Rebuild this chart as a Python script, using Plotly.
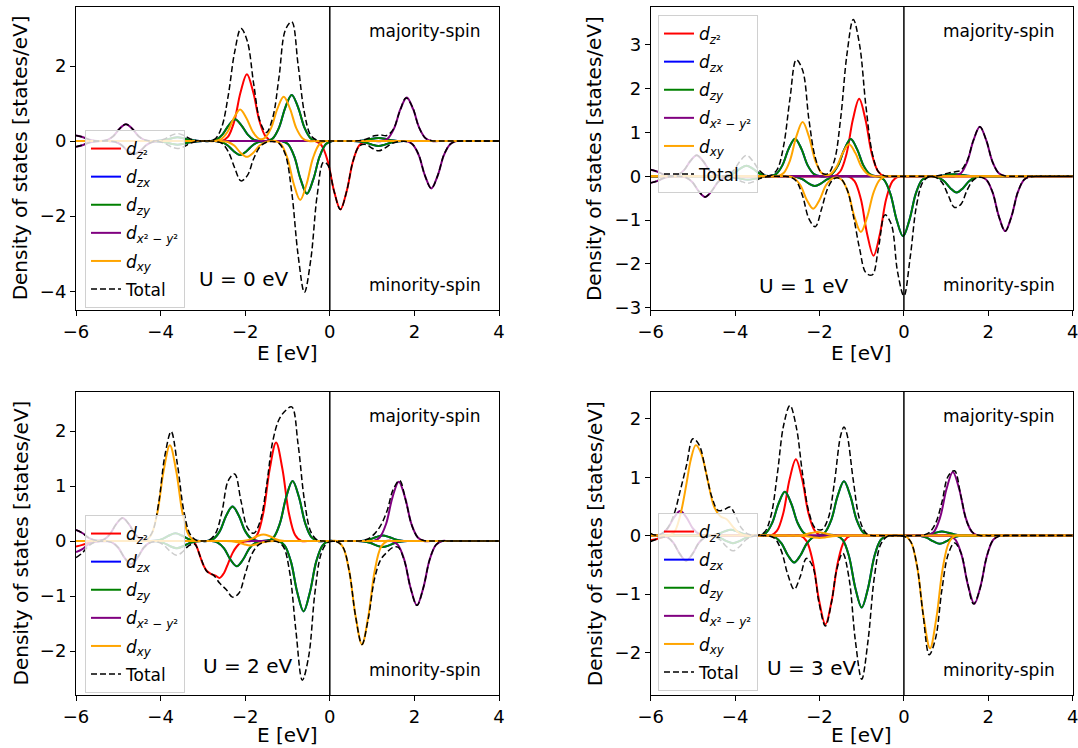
import plotly.graph_objects as go

# ---------------- data: (E [eV], DOS [states/eV]) ----------------
E_TICKS = [-6, -4, -2, 0, 2, 4]
U_VALUES = [0, 1, 2, 3]
Y_RANGES = [[-4.5, 3.58], [-3.05, 3.87], [-2.8, 2.71], [-2.73, 2.46]]
Y_DTICKS = [2, 1, 1, 1]

# ---- U = 0 eV ----
U0_DZ2_UP = [(-6,0),(-2.71,0),(-2.56,0),(-2.41,.11),(-2.26,.52),(-2.11,1.30),(-1.96,1.78),(-1.81,1.30),(-1.66,.52),(-1.51,.11),(-1.36,0),(-1.21,0),(4,0)]
U0_DZ2_DN = [(-6,0),(-0.5,0),(-0.35,0),(-0.2,-.11),(-0.05,-.53),(0.1,-1.33),(0.25,-1.82),(0.4,-1.33),(0.55,-.53),(0.7,-.11),(0.85,0),(1.0,0),(4,0)]
U0_DZY_UP = [(-6,0),(-4.35,0),(-4.2,0),(-4.05,.01),(-3.9,.03),(-3.75,.07),(-3.6,.10),(-3.45,.07),(-3.3,.03),(-3.15,.01),(-3.0,0),(-2.84,0),(-2.69,.03),(-2.54,.17),(-2.39,.42),(-2.24,.58),(-2.09,.42),(-1.94,.17),(-1.79,.03),(-1.64,0),(-1.5,0),(-1.35,.07),(-1.2,.36),(-1.05,.90),(-0.9,1.23),(-0.75,.90),(-0.6,.36),(-0.45,.07),(-0.3,0),(-0.15,0),(0.55,0),(0.7,.005),(0.85,.02),(1.0,.06),(1.15,.08),(1.3,.06),(1.45,.02),(1.6,.005),(1.75,0),(1.9,0),(4,0)]
U0_DZY_DN = [(-6,0),(-4.35,0),(-4.2,0),(-4.05,-.01),(-3.9,-.03),(-3.75,-.07),(-3.6,-.10),(-3.45,-.07),(-3.3,-.03),(-3.15,-.01),(-3.0,0),(-2.72,0),(-2.57,-.02),(-2.42,-.11),(-2.27,-.27),(-2.12,-.37),(-1.97,-.27),(-1.82,-.11),(-1.67,-.02),(-1.52,0),(-1.29,0),(-1.14,0),(-0.99,-.08),(-0.84,-.41),(-0.69,-1.02),(-0.54,-1.40),(-0.39,-1.02),(-0.24,-.41),(-0.09,-.08),(0.06,0),(0.21,0),(0.55,0),(0.7,-.01),(0.85,-.04),(1.0,-.095),(1.15,-.13),(1.3,-.095),(1.45,-.04),(1.6,-.01),(1.75,0),(1.9,0),(4,0)]
U0_DZX_UP = U0_DZY_UP
U0_DZX_DN = U0_DZY_DN
U0_DXY_UP = [(-6,0),(-2.87,0),(-2.72,0),(-2.57,.05),(-2.42,.24),(-2.27,.61),(-2.12,.84),(-1.97,.61),(-1.82,.25),(-1.67,.06),(-1.54,.08),(-1.39,.34),(-1.24,.86),(-1.09,1.18),(-0.94,.86),(-0.79,.34),(-0.64,.07),(-0.49,0),(-0.34,0),(4,0)]
U0_DXY_DN = [(-6,0),(-2.71,0),(-2.56,0),(-2.41,-.025),(-2.26,-.12),(-2.11,-.31),(-1.96,-.42),(-1.81,-.31),(-1.66,-.12),(-1.51,-.025),(-1.4,0),(-1.28,0),(-1.15,-.09),(-1.0,-.46),(-0.85,-1.15),(-0.7,-1.57),(-0.55,-1.15),(-0.4,-.46),(-0.25,-.09),(-0.1,0),(0.05,0),(4,0)]
U0_DX2Y2_UP = [(-6,.15),(-5.85,.11),(-5.7,.045),(-5.56,.01),(-5.42,0),(-5.27,.027),(-5.12,.13),(-4.97,.33),(-4.82,.45),(-4.67,.33),(-4.52,.13),(-4.37,.027),(-4.22,0),(-4.07,0),(1.07,0),(1.22,0),(1.37,.07),(1.52,.34),(1.67,.85),(1.82,1.16),(1.97,.85),(2.12,.34),(2.27,.07),(2.42,0),(2.57,0),(4,0)]
U0_DX2Y2_DN = [(-6,-.15),(-5.85,-.11),(-5.7,-.045),(-5.55,-.01),(-5.38,0),(-5.23,0),(-5.08,-.02),(-4.93,-.10),(-4.78,-.26),(-4.63,-.35),(-4.48,-.26),(-4.33,-.10),(-4.18,-.02),(-4.03,0),(-3.88,0),(1.65,0),(1.8,0),(1.95,-.08),(2.1,-.37),(2.25,-.92),(2.4,-1.26),(2.55,-.92),(2.7,-.37),(2.85,-.08),(3.0,0),(3.15,0),(4,0)]
U0_TOT_UP = [(-6,.15),(-5.85,.11),(-5.7,.045),(-5.56,.01),(-5.42,0),(-5.27,.027),(-5.12,.13),(-4.97,.33),(-4.82,.45),(-4.67,.33),(-4.52,.13),(-4.37,.027),(-4.2,0),(-4.05,.012),(-3.9,.06),(-3.75,.15),(-3.6,.20),(-3.45,.15),(-3.3,.06),(-3.15,.012),(-3.0,0),(-2.85,.01),(-2.7,.07),(-2.55,.39),(-2.4,1.22),(-2.25,2.37),(-2.1,3.0),(-1.95,2.66),(-1.8,1.53),(-1.65,.53),(-1.5,.23),(-1.35,.62),(-1.2,1.71),(-1.05,2.96),(-0.9,3.18),(-0.75,2.04),(-0.6,.75),(-0.45,.15),(-0.3,.02),(-0.15,0),(0.0,0),(0.45,0),(0.6,0),(0.75,.017),(0.9,.067),(1.05,.14),(1.2,.16),(1.35,.15),(1.5,.31),(1.65,.78),(1.8,1.15),(1.95,.92),(2.1,.39),(2.25,.09),(2.4,.01),(2.55,0),(2.7,0),(4,0)]
U0_TOT_DN = [(-6,-.15),(-5.85,-.11),(-5.7,-.045),(-5.55,-.01),(-5.38,0),(-5.23,0),(-5.08,-.02),(-4.93,-.10),(-4.78,-.26),(-4.63,-.35),(-4.48,-.26),(-4.33,-.10),(-4.18,-.02),(-4.05,-.012),(-3.9,-.06),(-3.75,-.15),(-3.6,-.20),(-3.45,-.15),(-3.3,-.06),(-3.15,-.012),(-3.0,0),(-2.85,0),(-2.7,-.01),(-2.55,-.06),(-2.4,-.28),(-2.25,-.71),(-2.1,-1.06),(-1.95,-.92),(-1.8,-.47),(-1.65,-.15),(-1.5,-.03),(-1.35,-.01),(-1.2,-.06),(-1.05,-.36),(-0.9,-1.36),(-0.75,-3.03),(-0.6,-4.03),(-0.45,-3.16),(-0.3,-1.46),(-0.15,-.56),(-0.05,-.63),(0.1,-1.33),(0.25,-1.82),(0.4,-1.33),(0.55,-.53),(0.7,-.13),(0.85,-.09),(1.0,-.19),(1.15,-.26),(1.3,-.19),(1.45,-.075),(1.6,-.016),(1.75,-.005),(1.95,-.08),(2.1,-.36),(2.25,-.92),(2.4,-1.26),(2.55,-.92),(2.7,-.36),(2.85,-.08),(3.0,-.01),(3.15,0),(3.3,0),(4,0)]

# ---- U = 1 eV ----
U1_DZ2_UP = [(-6,0),(-1.81,0),(-1.66,0),(-1.51,.11),(-1.36,.51),(-1.21,1.29),(-1.06,1.77),(-0.91,1.29),(-0.76,.51),(-0.61,.11),(-0.46,0),(-0.31,0),(4,0)]
U1_DZ2_DN = [(-6,0),(-1.47,0),(-1.32,0),(-1.17,-.11),(-1.02,-.52),(-0.87,-1.32),(-0.72,-1.81),(-0.57,-1.32),(-0.42,-.52),(-0.27,-.11),(-0.12,0),(0.03,0),(4,0)]
U1_DZY_UP = [(-6,0),(-4.48,0),(-4.33,0),(-4.18,.014),(-4.03,.07),(-3.88,.175),(-3.73,.24),(-3.58,.175),(-3.43,.07),(-3.28,.015),(-3.13,.015),(-3.03,.05),(-2.88,.25),(-2.73,.63),(-2.58,.86),(-2.43,.63),(-2.28,.25),(-2.13,.05),(-1.98,0),(-1.86,0),(-1.71,.05),(-1.56,.25),(-1.41,.62),(-1.26,.85),(-1.11,.62),(-0.96,.25),(-0.81,.05),(-0.66,0),(-0.51,0),(0.6,0),(0.75,.003),(0.9,.015),(1.05,.037),(1.2,.05),(1.35,.037),(1.5,.015),(1.65,.003),(1.8,0),(1.95,0),(4,0)]
U1_DZY_DN = [(-6,0),(-4.45,0),(-4.3,0),(-4.15,-.005),(-4.0,-.023),(-3.85,-.058),(-3.7,-.08),(-3.55,-.058),(-3.4,-.023),(-3.25,-.005),(-3.1,0),(-2.95,0),(-2.71,0),(-2.56,-.013),(-2.41,-.064),(-2.26,-.16),(-2.11,-.22),(-1.96,-.16),(-1.81,-.064),(-1.66,-.013),(-1.51,0),(-1.36,0),(-0.77,0),(-0.62,0),(-0.47,-.08),(-0.32,-.40),(-0.17,-1.0),(-0.02,-1.37),(0.13,-1.0),(0.28,-.40),(0.43,-.08),(0.58,-.01),(0.72,-.007),(0.8,-.022),(0.95,-.107),(1.1,-.27),(1.25,-.37),(1.4,-.27),(1.55,-.107),(1.7,-.022),(1.85,0),(2.0,0),(4,0)]
U1_DZX_UP = U1_DZY_UP
U1_DZX_DN = U1_DZY_DN
U1_DXY_UP = [(-6,0),(-3.15,0),(-3.0,0),(-2.85,.074),(-2.7,.36),(-2.55,.905),(-2.4,1.24),(-2.25,.905),(-2.1,.36),(-1.95,.076),(-1.85,.03),(-1.75,.047),(-1.6,.21),(-1.45,.53),(-1.3,.73),(-1.15,.53),(-1.0,.21),(-0.85,.044),(-0.7,0),(-0.55,0),(4,0)]
U1_DXY_DN = [(-6,0),(-2.9,0),(-2.75,0),(-2.6,-.044),(-2.45,-.21),(-2.3,-.54),(-2.15,-.74),(-2.0,-.54),(-1.85,-.21),(-1.7,-.05),(-1.58,-.026),(-1.47,-.08),(-1.32,-.37),(-1.17,-.93),(-1.02,-1.27),(-0.87,-.93),(-0.72,-.37),(-0.57,-.076),(-0.42,0),(-0.27,0),(4,0)]
U1_DX2Y2_UP = [(-6,.15),(-5.85,.11),(-5.7,.045),(-5.55,.012),(-5.36,.029),(-5.21,.14),(-5.06,.35),(-4.91,.48),(-4.76,.35),(-4.61,.14),(-4.46,.029),(-4.31,0),(-4.16,0),(1.05,0),(1.2,0),(1.35,.068),(1.5,.33),(1.65,.825),(1.8,1.13),(1.95,.825),(2.1,.33),(2.25,.068),(2.4,0),(2.55,0),(4,0)]
U1_DX2Y2_DN = [(-6,-.15),(-5.85,-.11),(-5.7,-.045),(-5.55,-.01),(-5.4,-.002),(-5.28,-.002),(-5.16,-.028),(-5.01,-.136),(-4.86,-.343),(-4.71,-.47),(-4.56,-.343),(-4.41,-.136),(-4.26,-.028),(-4.11,0),(-3.96,0),(1.65,0),(1.8,0),(1.95,-.075),(2.1,-.36),(2.25,-.91),(2.4,-1.25),(2.55,-.91),(2.7,-.36),(2.85,-.075),(3.0,0),(3.15,0),(4,0)]
U1_TOT_UP = [(-6,.15),(-5.85,.11),(-5.7,.045),(-5.55,.012),(-5.36,.029),(-5.21,.14),(-5.06,.35),(-4.91,.48),(-4.76,.35),(-4.61,.14),(-4.46,.03),(-4.33,.008),(-4.18,.029),(-4.03,.14),(-3.88,.35),(-3.73,.48),(-3.58,.35),(-3.43,.14),(-3.28,.03),(-3.15,.023),(-3.0,.16),(-2.85,.70),(-2.7,1.77),(-2.55,2.66),(-2.4,2.42),(-2.25,1.29),(-2.1,.43),(-1.95,.08),(-1.8,.06),(-1.65,.35),(-1.5,1.31),(-1.35,2.78),(-1.2,3.58),(-1.05,3.0),(-0.9,1.60),(-0.75,.53),(-0.6,.10),(-0.45,.01),(-0.3,0),(-0.15,0),(0.45,0),(0.6,0),(0.75,.006),(0.9,.03),(1.05,.073),(1.2,.10),(1.35,.14),(1.5,.36),(1.65,.83),(1.8,1.13),(1.95,.83),(2.1,.33),(2.25,.07),(2.4,.01),(2.55,0),(2.7,0),(4,0)]
U1_TOT_DN = [(-6,-.15),(-5.85,-.11),(-5.7,-.045),(-5.55,-.01),(-5.4,-.002),(-5.28,-.002),(-5.16,-.028),(-5.01,-.136),(-4.86,-.343),(-4.71,-.47),(-4.56,-.343),(-4.41,-.136),(-4.26,-.028),(-4.15,-.016),(-4.0,-.046),(-3.85,-.117),(-3.7,-.16),(-3.55,-.117),(-3.4,-.046),(-3.25,-.01),(-3.1,0),(-2.85,0),(-2.7,-.015),(-2.55,-.11),(-2.4,-.45),(-2.25,-.97),(-2.1,-1.15),(-1.95,-.74),(-1.8,-.26),(-1.65,-.05),(-1.5,-.055),(-1.35,-.29),(-1.2,-.89),(-1.05,-1.65),(-0.9,-2.20),(-0.75,-2.25),(-0.6,-1.62),(-0.45,-.88),(-0.3,-1.09),(-0.15,-2.18),(0.0,-2.73),(0.15,-1.84),(0.3,-.66),(0.45,-.13),(0.6,-.01),(0.75,-.023),(0.9,-.135),(1.05,-.43),(1.2,-.71),(1.35,-.64),(1.5,-.31),(1.65,-.08),(1.8,-.02),(1.95,-.075),(2.1,-.36),(2.25,-.915),(2.4,-1.25),(2.55,-.915),(2.7,-.36),(2.85,-.075),(3.0,-.009),(3.15,0),(3.3,0),(4,0)]

# ---- U = 2 eV ----
U2_DZ2_UP = [(-6,0),(-2.02,0),(-1.87,0),(-1.72,.11),(-1.57,.52),(-1.42,1.31),(-1.27,1.79),(-1.12,1.31),(-0.97,.52),(-0.82,.11),(-0.67,0),(-0.52,0),(4,0)]
U2_DZ2_DN = [(-6,-.1),(-5.85,-.07),(-5.7,-.03),(-5.55,-.006),(-5.4,0),(-5.25,0),(-3.5,0),(-3.35,0),(-3.2,-.03),(-3.1,-.2),(-3.0,-.42),(-2.9,-.55),(-2.8,-.6),(-2.7,-.63),(-2.6,-.67),(-2.5,-.58),(-2.4,-.40),(-2.3,-.22),(-2.2,-.10),(-2.1,-.03),(-1.95,0),(-1.8,0),(4,0)]
U2_DZY_UP = [(-6,0),(-4.4,0),(-4.25,0),(-4.1,.008),(-3.95,.04),(-3.8,.10),(-3.65,.14),(-3.5,.10),(-3.35,.04),(-3.2,.008),(-3.05,0),(-2.9,0),(-2.75,.038),(-2.6,.18),(-2.45,.46),(-2.3,.63),(-2.15,.46),(-2.0,.18),(-1.85,.038),(-1.7,0),(-1.48,0),(-1.33,.065),(-1.18,.32),(-1.03,.80),(-0.88,1.09),(-0.73,.80),(-0.58,.32),(-0.43,.065),(-0.28,0),(-0.13,0),(0.5,0),(0.65,0),(0.8,.006),(0.95,.03),(1.1,.073),(1.25,.1),(1.4,.073),(1.55,.03),(1.7,.006),(1.85,0),(2.0,0),(4,0)]
U2_DZY_DN = [(-6,0),(-4.37,0),(-4.22,0),(-4.07,-.008),(-3.92,-.038),(-3.77,-.095),(-3.62,-.13),(-3.47,-.095),(-3.32,-.038),(-3.17,-.008),(-3.02,0),(-2.8,0),(-2.65,-.028),(-2.5,-.133),(-2.35,-.336),(-2.2,-.46),(-2.05,-.336),(-1.9,-.133),(-1.75,-.028),(-1.6,0),(-1.22,0),(-1.07,-.077),(-0.92,-.37),(-0.77,-.93),(-0.62,-1.28),(-0.47,-.93),(-0.32,-.37),(-0.17,-.077),(-0.02,0),(0.13,0),(0.5,0),(0.65,0),(0.8,-.007),(0.95,-.032),(1.1,-.08),(1.25,-.11),(1.4,-.08),(1.55,-.032),(1.7,-.007),(1.85,0),(2.0,0),(4,0)]
U2_DZX_UP = U2_DZY_UP
U2_DZX_DN = U2_DZY_DN
U2_DXY_UP = [(-6,0),(-4.53,0),(-4.38,0),(-4.23,.10),(-4.08,.50),(-3.93,1.27),(-3.78,1.74),(-3.63,1.27),(-3.48,.50),(-3.33,.10),(-3.18,0),(-3.03,0),(-2.32,0),(-2.17,0),(-2.02,.007),(-1.87,.035),(-1.72,.088),(-1.57,.12),(-1.42,.088),(-1.27,.035),(-1.12,.007),(-0.97,0),(-0.82,0),(4,0)]
U2_DXY_DN = [(-6,0),(-2.63,0),(-2.48,0),(-2.33,-.005),(-2.18,-.023),(-2.03,-.058),(-1.88,-.08),(-1.73,-.058),(-1.58,-.023),(-1.43,-.005),(-1.28,0),(-1.13,0),(0.01,0),(0.16,0),(0.31,-.11),(0.46,-.55),(0.61,-1.37),(0.76,-1.88),(0.91,-1.37),(1.06,-.55),(1.21,-.11),(1.36,0),(1.51,0),(4,0)]
U2_DX2Y2_UP = [(-6,.2),(-5.85,.146),(-5.7,.058),(-5.55,.015),(-5.35,.025),(-5.2,.122),(-5.05,.307),(-4.9,.42),(-4.75,.307),(-4.6,.122),(-4.45,.025),(-4.3,0),(-4.15,0),(0.88,0),(1.03,0),(1.18,.065),(1.33,.31),(1.48,.79),(1.63,1.08),(1.78,.79),(1.93,.31),(2.08,.065),(2.23,0),(2.38,0),(4,0)]
U2_DX2Y2_DN = [(-6,-.2),(-5.85,-.146),(-5.7,-.058),(-5.55,-.012),(-5.4,-.003),(-5.27,-.005),(-5.15,-.025),(-5.0,-.122),(-4.85,-.307),(-4.7,-.42),(-4.55,-.307),(-4.4,-.122),(-4.25,-.025),(-4.1,0),(-3.95,0),(1.31,0),(1.46,0),(1.61,-.07),(1.76,-.34),(1.91,-.854),(2.06,-1.17),(2.21,-.854),(2.36,-.34),(2.51,-.07),(2.66,0),(2.81,0),(4,0)]
U2_TOT_UP = [(-6,.2),(-5.85,.146),(-5.7,.058),(-5.55,.015),(-5.35,.025),(-5.2,.122),(-5.05,.307),(-4.9,.42),(-4.75,.307),(-4.6,.122),(-4.5,.046),(-4.35,.026),(-4.2,.155),(-4.05,.67),(-3.9,1.55),(-3.75,1.99),(-3.6,1.38),(-3.45,.54),(-3.3,.12),(-3.15,.013),(-3.0,0),(-2.85,.02),(-2.7,.14),(-2.55,.53),(-2.4,1.10),(-2.25,1.22),(-2.1,.73),(-1.95,.25),(-1.8,.14),(-1.65,.35),(-1.5,.98),(-1.35,1.81),(-1.2,2.21),(-1.05,2.37),(-0.9,2.44),(-0.75,1.76),(-0.6,.74),(-0.45,.17),(-0.3,.02),(-0.15,0),(0.45,0),(0.6,0),(0.75,.006),(0.9,.037),(1.05,.125),(1.2,.28),(1.35,.54),(1.5,.94),(1.65,1.10),(1.8,.72),(1.95,.26),(2.1,.05),(2.25,.005),(2.4,0),(2.55,0),(4,0)]
U2_TOT_DN = [(-6,-.3),(-5.85,-.216),(-5.7,-.088),(-5.55,-.018),(-5.4,-.003),(-5.27,-.005),(-5.15,-.025),(-5.0,-.122),(-4.85,-.307),(-4.7,-.42),(-4.55,-.307),(-4.4,-.122),(-4.25,-.03),(-4.07,-.016),(-3.92,-.076),(-3.77,-.19),(-3.62,-.26),(-3.47,-.19),(-3.35,-.095),(-3.2,-.053),(-3.05,-.31),(-2.9,-.56),(-2.75,-.62),(-2.6,-.77),(-2.45,-.88),(-2.3,-1.02),(-2.15,-.95),(-2.0,-.6),(-1.85,-.25),(-1.7,-.08),(-1.55,-.02),(-1.4,0),(-1.25,-.01),(-1.1,-.10),(-0.95,-.56),(-0.8,-1.64),(-0.65,-2.53),(-0.5,-2.10),(-0.35,-.93),(-0.2,-.22),(-0.05,-.03),(0.16,-.013),(0.31,-.11),(0.46,-.55),(0.61,-1.37),(0.76,-1.88),(0.91,-1.41),(1.06,-.68),(1.21,-.33),(1.36,-.20),(1.48,-.12),(1.61,-.11),(1.76,-.35),(1.91,-.854),(2.06,-1.17),(2.21,-.854),(2.36,-.34),(2.51,-.07),(2.66,0),(2.81,0),(4,0)]

# ---- U = 3 eV ----
U3_DZ2_UP = [(-6,0),(-3.31,0),(-3.16,0),(-3.01,.08),(-2.86,.38),(-2.71,.96),(-2.56,1.31),(-2.41,.96),(-2.26,.38),(-2.11,.08),(-1.96,0),(-1.81,0),(4,0)]
U3_DZ2_DN = [(-6,-.08),(-5.85,-.058),(-5.7,-.023),(-5.55,-.005),(-5.4,0),(-5.25,0),(-2.61,0),(-2.46,0),(-2.31,-.09),(-2.16,-.44),(-2.01,-1.11),(-1.86,-1.52),(-1.71,-1.11),(-1.56,-.44),(-1.41,-.09),(-1.26,0),(-1.11,0),(4,0)]
U3_DZY_UP = [(-6,0),(-4.85,0),(-4.7,0),(-4.55,.006),(-4.4,.029),(-4.25,.073),(-4.1,.1),(-3.95,.073),(-3.8,.029),(-3.65,.006),(-3.45,0),(-3.27,.045),(-3.12,.22),(-2.97,.55),(-2.82,.75),(-2.67,.55),(-2.52,.22),(-2.37,.045),(-2.22,0),(-2.02,0),(-1.87,.056),(-1.72,.27),(-1.57,.68),(-1.42,.93),(-1.27,.68),(-1.12,.27),(-0.97,.056),(-0.82,0),(-0.67,0),(0.15,0),(0.3,0),(0.45,.004),(0.6,.02),(0.75,.05),(0.9,.07),(1.05,.05),(1.2,.02),(1.35,.004),(1.5,0),(1.65,0),(4,0)]
U3_DZY_DN = [(-6,0),(-4.8,0),(-4.65,0),(-4.5,-.008),(-4.35,-.038),(-4.2,-.095),(-4.05,-.13),(-3.9,-.095),(-3.75,-.038),(-3.6,-.008),(-3.45,0),(-3.2,0),(-3.05,-.028),(-2.9,-.133),(-2.75,-.336),(-2.6,-.46),(-2.45,-.336),(-2.3,-.133),(-2.15,-.028),(-2.0,0),(-1.6,0),(-1.45,-.074),(-1.3,-.357),(-1.15,-.90),(-1.0,-1.23),(-0.85,-.90),(-0.7,-.357),(-0.55,-.074),(-0.4,0),(-0.25,0),(0.1,0),(0.25,0),(0.4,-.008),(0.55,-.04),(0.7,-.10),(0.85,-.14),(1.0,-.10),(1.15,-.04),(1.3,-.008),(1.45,0),(1.6,0),(4,0)]
U3_DZX_UP = U3_DZY_UP
U3_DZX_DN = U3_DZY_DN
U3_DXY_UP = [(-6,0),(-5.75,0),(-5.6,0),(-5.45,.05),(-5.3,.35),(-5.15,.9),(-5.05,1.3),(-4.93,1.55),(-4.8,1.4),(-4.65,.95),(-4.5,.5),(-4.35,.33),(-4.2,.28),(-4.05,.15),(-3.9,.04),(-3.75,0),(-3.6,0),(-2.8,0),(-2.65,0),(-2.5,.004),(-2.35,.017),(-2.2,.044),(-2.05,.06),(-1.9,.044),(-1.75,.017),(-1.6,.004),(-1.45,0),(-1.3,0),(4,0)]
U3_DXY_DN = [(-6,0),(-2.75,0),(-2.6,0),(-2.45,-.002),(-2.3,-.012),(-2.15,-.03),(-2.0,-.04),(-1.85,-.03),(-1.7,-.012),(-1.55,-.002),(-1.4,0),(-1.25,0),(-0.13,0),(0.02,0),(0.17,-.116),(0.32,-.56),(0.47,-1.41),(0.62,-1.93),(0.77,-1.41),(0.92,-.56),(1.07,-.116),(1.22,0),(1.37,0),(4,0)]
U3_DX2Y2_UP = [(-6,0),(-5.9,0),(-5.75,.025),(-5.6,.122),(-5.45,.307),(-5.3,.42),(-5.15,.307),(-5.0,.122),(-4.85,.025),(-4.7,0),(-4.55,0),(0.41,0),(0.56,0),(0.71,.065),(0.86,.316),(1.01,.80),(1.16,1.09),(1.31,.80),(1.46,.316),(1.61,.065),(1.76,0),(1.91,0),(4,0)]
U3_DX2Y2_DN = [(-6,0),(-5.76,0),(-5.61,-.026),(-5.46,-.125),(-5.31,-.314),(-5.16,-.43),(-5.01,-.314),(-4.86,-.125),(-4.71,-.026),(-4.56,0),(-4.41,0),(0.92,0),(1.07,0),(1.22,-.07),(1.37,-.34),(1.52,-.854),(1.67,-1.17),(1.82,-.854),(1.97,-.34),(2.12,-.07),(2.27,0),(2.42,0),(4,0)]
U3_TOT_UP = [(-6,.04),(-5.9,.01),(-5.75,.03),(-5.6,.13),(-5.45,.36),(-5.3,.77),(-5.15,1.21),(-5.0,1.66),(-4.85,1.55),(-4.7,1.12),(-4.55,.66),(-4.4,.43),(-4.25,.45),(-4.12,.49),(-4.0,.36),(-3.85,.13),(-3.7,.03),(-3.55,.006),(-3.45,.006),(-3.3,.06),(-3.15,.34),(-3.0,1.05),(-2.85,1.89),(-2.7,2.23),(-2.55,1.86),(-2.4,1.05),(-2.25,.40),(-2.1,.13),(-1.95,.10),(-1.8,.28),(-1.65,.89),(-1.5,1.71),(-1.42,1.86),(-1.35,1.74),(-1.2,.95),(-1.05,.28),(-0.9,.045),(-0.75,0),(-0.6,0),(0.3,0),(0.45,.008),(0.6,.054),(0.75,.21),(0.9,.57),(1.05,1.02),(1.2,1.11),(1.35,.68),(1.5,.22),(1.65,.04),(1.8,.003),(1.95,0),(2.1,0),(4,0)]
U3_TOT_DN = [(-6,-.1),(-5.85,-.06),(-5.7,-.03),(-5.58,-.04),(-5.46,-.13),(-5.31,-.314),(-5.16,-.43),(-5.01,-.314),(-4.86,-.125),(-4.71,-.03),(-4.6,-.008),(-4.5,-.016),(-4.35,-.075),(-4.2,-.19),(-4.05,-.26),(-3.9,-.19),(-3.75,-.075),(-3.6,-.016),(-3.45,0),(-3.35,0),(-3.2,-.006),(-3.05,-.055),(-2.9,-.27),(-2.75,-.67),(-2.6,-.92),(-2.46,-.71),(-2.31,-.39),(-2.16,-.53),(-2.01,-1.16),(-1.86,-1.55),(-1.71,-1.12),(-1.6,-.61),(-1.45,-.30),(-1.3,-.73),(-1.15,-1.80),(-1.0,-2.46),(-0.85,-1.80),(-0.7,-.71),(-0.55,-.15),(-0.4,-.017),(-0.25,0),(-0.1,0),(0.0,-.01),(0.15,-.09),(0.3,-.47),(0.45,-1.32),(0.6,-2.04),(0.75,-1.76),(0.9,-.93),(1.05,-.32),(1.2,-.125),(1.35,-.29),(1.5,-.78),(1.65,-1.17),(1.8,-.92),(1.95,-.40),(2.1,-.09),(2.25,-.01),(2.4,0),(2.55,0),(4,0)]

ORBITALS = ["dz2", "dzx", "dzy", "dx2y2", "dxy", "total"]
LABELS = ["<i>d</i><sub><i>z</i>²</sub>", "<i>d</i><sub><i>zx</i></sub>", "<i>d</i><sub><i>zy</i></sub>",
          "<i>d</i><sub><i>x</i>² − <i>y</i>²</sub>", "<i>d</i><sub><i>xy</i></sub>", "Total"]
COLORS = ["#ff0000", "#0000ff", "#008000", "#800080", "#ffa500", "#000000"]

PANEL_DATA = [
    [(U0_DZ2_UP, U0_DZ2_DN), (U0_DZX_UP, U0_DZX_DN), (U0_DZY_UP, U0_DZY_DN), (U0_DX2Y2_UP, U0_DX2Y2_DN), (U0_DXY_UP, U0_DXY_DN), (U0_TOT_UP, U0_TOT_DN)],
    [(U1_DZ2_UP, U1_DZ2_DN), (U1_DZX_UP, U1_DZX_DN), (U1_DZY_UP, U1_DZY_DN), (U1_DX2Y2_UP, U1_DX2Y2_DN), (U1_DXY_UP, U1_DXY_DN), (U1_TOT_UP, U1_TOT_DN)],
    [(U2_DZ2_UP, U2_DZ2_DN), (U2_DZX_UP, U2_DZX_DN), (U2_DZY_UP, U2_DZY_DN), (U2_DX2Y2_UP, U2_DX2Y2_DN), (U2_DXY_UP, U2_DXY_DN), (U2_TOT_UP, U2_TOT_DN)],
    [(U3_DZ2_UP, U3_DZ2_DN), (U3_DZX_UP, U3_DZX_DN), (U3_DZY_UP, U3_DZY_DN), (U3_DX2Y2_UP, U3_DX2Y2_DN), (U3_DXY_UP, U3_DXY_DN), (U3_TOT_UP, U3_TOT_DN)],
]

# ---------------- layout geometry (pixels of a 1078 x 748 canvas) ----------------
W, H = 1078, 748
FONT = "DejaVu Sans"
PX_L = (76, 499)
PX_R = (650.7, 1072.7)
PX_T = (6.7, 310)
PX_B = (392, 695)
BOXES = [(PX_L, PX_T), (PX_R, PX_T), (PX_L, PX_B), (PX_R, PX_B)]
XTITLE_OFFSET = [43, 43, 40, 40]
LEGEND_POS = [(85, 130), (658, 15), (85, 515), (658, 513)]
U_TEXT_POS = [(0.397, 0.102), (0.362, 0.079), (0.405, 0.096), (0.382, 0.089)]

fig = go.Figure()
annotations = []
shapes = []
layout = {}

for p in range(4):
    ax = "" if p == 0 else str(p + 1)
    xname, yname = "x" + ax, "y" + ax
    legname = "legend" + ("" if p == 0 else str(p + 1))
    (x0, x1), (yt, yb) = BOXES[p]
    for k, (up, dn) in enumerate(PANEL_DATA[p]):
        is_tot = ORBITALS[k] == "total"
        line = dict(color=COLORS[k], width=1.5 if is_tot else 2, shape="spline", smoothing=1,
                    dash="6px,3px" if is_tot else "solid")
        for s, pts in enumerate((up, dn)):
            fig.add_trace(go.Scatter(
                x=[a for a, b in pts], y=[b for a, b in pts], mode="lines", line=line,
                name=LABELS[k], legendgroup=f"p{p}_{ORBITALS[k]}", showlegend=(s == 0),
                legend=legname, xaxis=xname, yaxis=yname, hoverinfo="skip"))

    axis_common = dict(showline=True, linecolor="black", linewidth=1, mirror=True,
                       ticks="outside", ticklen=5, tickwidth=1, tickcolor="black",
                       showgrid=False, zeroline=False, automargin=False,
                       ticklabeloverflow="allow",
                       tickfont=dict(family=FONT, size=18, color="black"))
    layout["xaxis" + ax] = dict(domain=[x0 / W, x1 / W], anchor=yname, range=[-6, 4],
                                tickvals=E_TICKS, **axis_common)
    layout["yaxis" + ax] = dict(domain=[1 - yb / H, 1 - yt / H], anchor=xname, range=Y_RANGES[p],
                                dtick=Y_DTICKS[p], tick0=0, **axis_common)

    lx, ly = LEGEND_POS[p]
    layout[legname] = dict(x=lx / W, y=1 - ly / H, xanchor="left", yanchor="top",
                           bgcolor="rgba(255,255,255,0.8)", bordercolor="#d0d0d0", borderwidth=1,
                           font=dict(family=FONT, size=17, color="black"),
                           traceorder="grouped", tracegroupgap=3, itemwidth=30)

    shapes.append(dict(type="line", xref=xname, yref=yname + " domain", x0=0, x1=0, y0=0, y1=1,
                       line=dict(color="black", width=1.5), layer="above"))

    annotations += [
        dict(xref=xname + " domain", yref=yname + " domain", x=0.963, y=0.92, xanchor="right",
             yanchor="middle", text="majority-spin", showarrow=False,
             font=dict(family=FONT, size=17, color="black")),
        dict(xref=xname + " domain", yref=yname + " domain", x=0.963, y=0.082, xanchor="right",
             yanchor="middle", text="minority-spin", showarrow=False,
             font=dict(family=FONT, size=17, color="black")),
        dict(xref=xname + " domain", yref=yname + " domain", x=U_TEXT_POS[p][0], y=U_TEXT_POS[p][1],
             xanchor="center", yanchor="middle", text=f"U = {U_VALUES[p]} eV", showarrow=False,
             font=dict(family=FONT, size=20, color="black")),
        dict(xref="paper", yref="paper", x=(x0 + x1) / 2 / W, y=1 - (yb + XTITLE_OFFSET[p]) / H,
             xanchor="center", yanchor="middle", text="E [eV]", showarrow=False,
             font=dict(family=FONT, size=20, color="black")),
        dict(xref="paper", yref="paper", x=(x0 - 56) / W, y=1 - (yt + yb) / 2 / H,
             xanchor="center", yanchor="middle", text="Density of states [states/eV]",
             textangle=-90, showarrow=False, font=dict(family=FONT, size=20, color="black")),
    ]

fig.update_layout(width=W, height=H, margin=dict(l=0, r=0, t=0, b=0),
                  paper_bgcolor="white", plot_bgcolor="white",
                  annotations=annotations, shapes=shapes, **layout)

fig.write_html("out.html")
